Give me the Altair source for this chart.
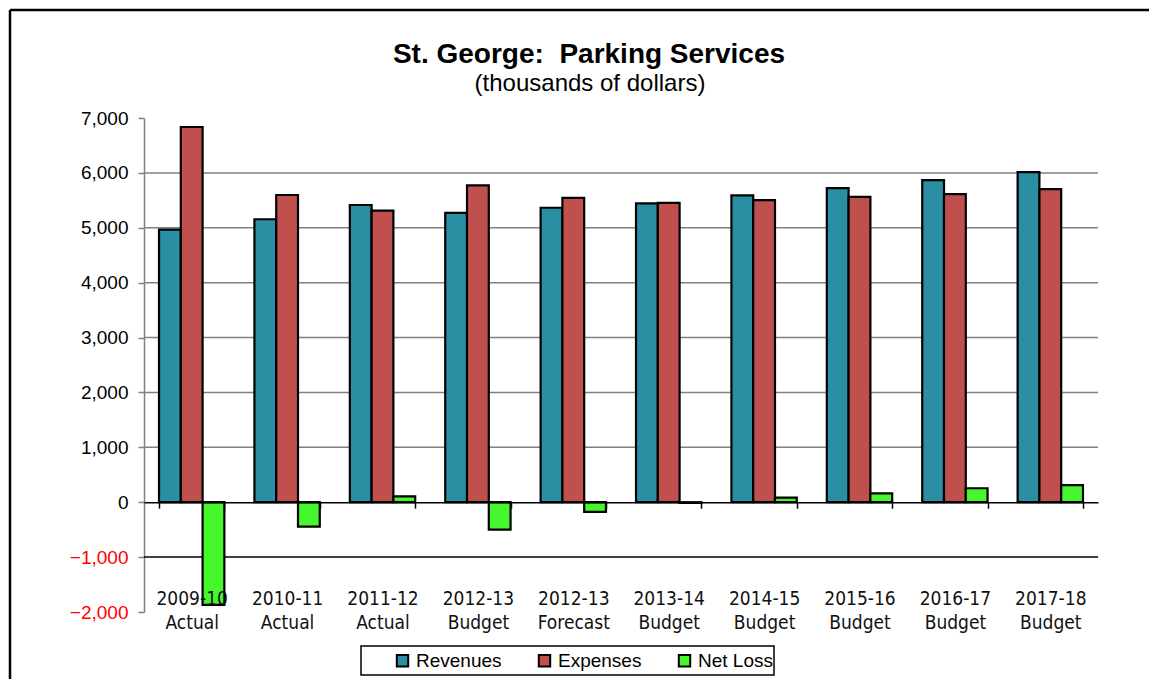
import altair as alt
import pandas as pd

categories = ["2009-10 Actual", "2010-11 Actual", "2011-12 Actual", "2012-13 Budget",
              "2012-13 Forecast", "2013-14 Budget", "2014-15 Budget", "2015-16 Budget",
              "2016-17 Budget", "2017-18 Budget"]
series_names = ["Revenues", "Expenses", "Net Loss"]
revenues = [4965, 5155, 5415, 5270, 5365, 5443, 5589, 5722, 5867, 6013]
expenses = [6836, 5597, 5313, 5774, 5545, 5455, 5504, 5564, 5613, 5704]
net_loss = [-1870, -445, 105, -500, -175, -12, 85, 160, 255, 310]
colors = ["#2A8FA3", "#C0504D", "#47F72E"]
y_ticks = [-2000, -1000, 0, 1000, 2000, 3000, 4000, 5000, 6000, 7000]
grid_values = [-1000, 1000, 2000, 3000, 4000, 5000, 6000]
grid_colors = ["#000000", "#808080", "#808080", "#808080", "#808080", "#808080", "#808080"]
title_text = "St. George:\u00a0 Parking Services"
subtitle_text = "(thousands of dollars)"

rows = []
for i, c in enumerate(categories):
    for s, vals in zip(series_names, [revenues, expenses, net_loss]):
        rows.append({"category": c, "series": s, "value": vals[i]})
df = pd.DataFrame(rows)
grid_df = pd.DataFrame({"v": grid_values, "col": grid_colors})
one = pd.DataFrame({"a": [0]})
title_df = pd.DataFrame({"t": [title_text]})
subtitle_df = pd.DataFrame({"t": [subtitle_text]})

W, H = 954, 494
yscale = alt.Scale(domain=[-2000, 7000], nice=False, zero=False)
y_axis = alt.Axis(title=None, values=y_ticks, grid=False,
                  labelExpr="format(datum.value, ',')",
                  labelFont="Liberation Sans", labelFontSize=19,
                  labelColor={"condition": {"test": "datum.value < 0", "value": "#FF0000"}, "value": "black"},
                  labelPadding=10, domainColor="#808080", domainWidth=1.5,
                  tickColor="#808080", tickSize=6, tickWidth=1.5)

grid = alt.Chart(grid_df).mark_rule(strokeWidth=1.5).encode(
    y=alt.Y("v:Q", scale=yscale, axis=y_axis),
    color=alt.Color("col:N", scale=None),
)

bars = alt.Chart(df).mark_bar(stroke="black", strokeWidth=2.2).encode(
    x=alt.X("category:N", sort=categories,
            scale=alt.Scale(paddingInner=0.315, paddingOuter=0.1575),
            axis=alt.Axis(title=None, labelAngle=0, labelExpr="split(datum.label, ' ')",
                          labelFont="Liberation Sans Narrow, Arial Narrow, DejaVu Sans Condensed, Liberation Sans",
                          labelFontSize=19, labelColor="#111111", labelLineHeight=24,
                          domainColor="black", domainWidth=1.5,
                          tickColor="black", tickSize=6, tickWidth=1.5, tickBand="extent",
                          offset=-109.8, labelPadding=81, zindex=1)),
    xOffset=alt.XOffset("series:N", sort=series_names, scale=alt.Scale(paddingInner=0, paddingOuter=0)),
    y=alt.Y("value:Q", scale=yscale, axis=y_axis),
    color=alt.Color("series:N", sort=series_names,
                    scale=alt.Scale(domain=series_names, range=colors),
                    legend=alt.Legend(title=None, orient="none", legendX=249, legendY=533,
                                      direction="horizontal", symbolType="square",
                                      symbolSize=130, symbolStrokeColor="black",
                                      symbolStrokeWidth=2, labelFont="Liberation Sans",
                                      labelFontSize=19, labelOffset=4, columnPadding=32,
                                      padding=0)),
)

legend_box = alt.Chart(one).mark_rect(fill="white", stroke="black", strokeWidth=1.5).encode(
    x=alt.value(217), x2=alt.value(630), y=alt.value(528), y2=alt.value(557)
)

frame_left = alt.Chart(one).mark_rule(color="black", strokeWidth=2.5).encode(
    x=alt.value(-134), y=alt.value(-108), y2=alt.value(561)
)
frame_top = alt.Chart(one).mark_rule(color="black", strokeWidth=2.5).encode(
    x=alt.value(-134), x2=alt.value(1005), y=alt.value(-108)
)

title_mark = alt.Chart(title_df).mark_text(
    font="Liberation Sans", fontSize=28, fontWeight="bold", color="black",
    align="center", baseline="alphabetic"
).encode(text="t:N", x=alt.value(445), y=alt.value(-55))

subtitle_mark = alt.Chart(subtitle_df).mark_text(
    font="Liberation Sans", fontSize=24, color="black",
    align="center", baseline="alphabetic"
).encode(text="t:N", x=alt.value(446), y=alt.value(-27))

chart = alt.layer(frame_left, frame_top, title_mark, subtitle_mark, legend_box, grid, bars).properties(
    width=W, height=H,
    padding={"left": 0, "top": 0, "right": 0, "bottom": 0},
).configure_view(stroke=None)

chart.save("out.html", embed_options={"renderer": "svg", "actions": False})
